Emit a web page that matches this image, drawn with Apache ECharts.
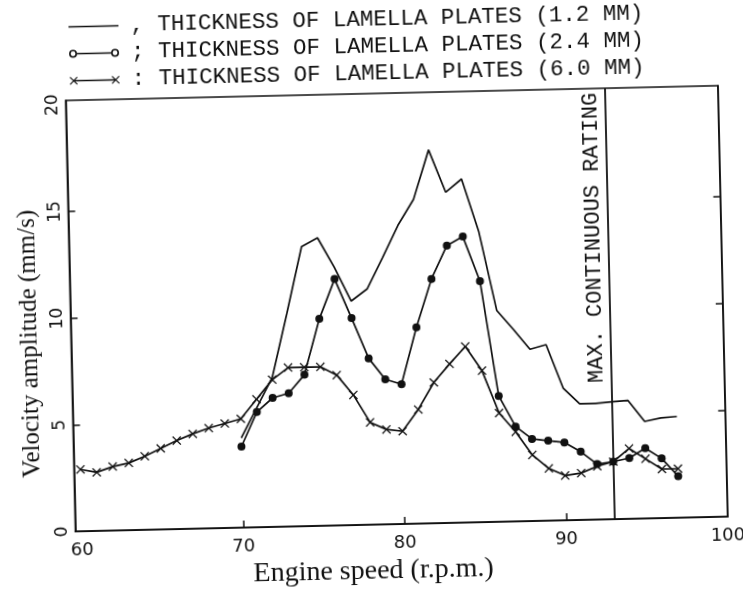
<!DOCTYPE html>
<html><head><meta charset="utf-8">
<script src="https://cdn.jsdelivr.net/npm/echarts@6/dist/echarts.min.js"></script>
<style>
html,body{margin:0;padding:0;background:#fff;overflow:hidden}
#c{width:743px;height:590px;transform:rotate(-1.3deg);transform-origin:398px 311px;background:#fff}
</style></head><body><div id="c"></div>
<script>
// ---- data ----
const speedThin = [70,71,72,73,74,75,76,77,78,79,80,81,82,83,84,85,86,87,88,89,90,91,92,93,94,95,96,97];
const amp12 = [4.2,5.6,7.0,10.0,13.1,13.5,12.1,10.5,11.05,12.5,14.0,15.2,17.5,15.5,16.1,13.6,9.9,9.0,8.05,8.25,6.2,5.45,5.45,5.5,5.55,4.55,4.7,4.75];
const amp24 = [3.8,5.4,6.05,6.25,7.1,9.7,11.55,9.7,7.8,6.8,6.55,9.2,11.45,13.0,13.4,11.3,5.9,4.45,3.85,3.75,3.65,3.2,2.6,2.7,2.85,3.3,2.8,1.95];
const speedThick = [60,61,62,63,64,65,66,67,68,69,70,71,72,73,74,75,76,77,78,79,80,81,82,83,84,85,86,87,88,89,90,91,92,93,94,95,96,97];
const amp60 = [2.9,2.75,3.0,3.15,3.45,3.8,4.15,4.45,4.7,4.9,5.1,6.0,6.9,7.45,7.45,7.45,7.05,6.1,4.8,4.45,4.35,5.35,6.6,7.45,8.25,7.1,5.1,4.2,3.1,2.45,2.1,2.2,2.5,2.7,3.3,2.8,2.3,2.3];
const seriesNames = ['THICKNESS OF LAMELLA PLATES (1.2 MM)','THICKNESS OF LAMELLA PLATES (2.4 MM)','THICKNESS OF LAMELLA PLATES (6.0 MM)'];
const legendSeps = [', ', '; ', ': '];
const xTickLabels = [60,70,80,90,100];
const xTicks = [70,80,90];
const yTickLabels = [0,5,10,15,20];
const yTicks = [5,10,15];
const ratedSpeed = 93;
const ratedLabel = 'MAX. CONTINUOUS RATING';

const pair = (xs, ys) => xs.map((x, i) => [x, ys[i]]);
const crossPath = (ox) => `M${ox},0.8 L${ox+0.8},0 L${ox+4},3.2 L${ox+7.2},0 L${ox+8},0.8 L${ox+4.8},4 L${ox+8},7.2 L${ox+7.2},8 L${ox+4},4.8 L${ox+0.8},8 L${ox},7.2 L${ox+3.2},4 Z`;
const ringPath = (cx) => `M${cx-4},4 A4,4 0 1,1 ${cx+4},4 A4,4 0 1,1 ${cx-4},4 Z M${cx-2.4},4 A2.4,2.4 0 1,0 ${cx+2.4},4 A2.4,2.4 0 1,0 ${cx-2.4},4 Z`;
const crossSymbol = 'path://' + crossPath(0);
const iconPlain = 'path://M0,3.3 L50,3.3 L50,4.7 L0,4.7 Z M0,0 L0.01,0 L0,0.01 Z M49.99,8 L50,8 L50,7.99 Z';
const iconCircles = 'path://' + ringPath(4) + ' M8,3.3 L42,3.3 L42,4.7 L8,4.7 Z ' + ringPath(46);
const iconCross = 'path://' + crossPath(0) + ' M5,3.3 L45,3.3 L45,4.7 L5,4.7 Z ' + crossPath(42);

const ink = '#111';
const mono = 'Liberation Mono';
const chart = echarts.init(document.getElementById('c'), null, {renderer:'canvas'});
const sepMap = {};
seriesNames.forEach((n, i) => sepMap[n] = legendSeps[i]);

chart.setOption({
  animation:false,
  backgroundColor:'#fff',
  grid:{left:70.5, top:93, width:655, height:436, show:true, borderColor:ink, borderWidth:1.6, containLabel:false},
  legend:{
    orient:'vertical', left:70, top:3, itemWidth:50, itemHeight:8, itemGap:4, selectedMode:false,
    data:[{name:seriesNames[0], icon:iconPlain},{name:seriesNames[1], icon:iconCircles},{name:seriesNames[2], icon:iconCross}],
    formatter:(n) => sepMap[n] + n,
    textStyle:{fontFamily:mono, fontSize:22.5, color:ink, lineHeight:20, padding:[0,0,0,7]}
  },
  xAxis:{
    type:'value', min:59.6, max:100,
    name:'Engine speed (r.p.m.)', nameLocation:'middle', nameGap:27,
    nameTextStyle:{fontFamily:'Liberation Serif', fontSize:28, color:ink, padding:[0,58,0,0]},
    axisLine:{lineStyle:{color:ink, width:1.6}},
    axisTick:{inside:true, length:7, customValues:xTicks, lineStyle:{color:ink, width:1.5}},
    axisLabel:{customValues:xTickLabels, margin:10, fontFamily:'DejaVu Sans', fontSize:18, color:ink},
    splitLine:{show:false}
  },
  yAxis:[{
    type:'value', min:0, max:20.2,
    name:'Velocity amplitude (mm/s)', nameLocation:'middle', nameGap:25,
    nameTextStyle:{fontFamily:'Liberation Serif', fontSize:25, color:ink, padding:[0,54,0,0]},
    axisLine:{lineStyle:{color:ink, width:1.6}},
    axisTick:{inside:true, length:7, customValues:yTicks, lineStyle:{color:ink, width:1.5}},
    axisLabel:{customValues:yTickLabels, rotate:90, margin:4, fontFamily:'DejaVu Sans', fontSize:17, color:ink},
    splitLine:{show:false}
  },{
    type:'value', min:0, max:20.2, position:'right',
    axisLine:{show:true, lineStyle:{color:ink, width:1.6}},
    axisTick:{inside:true, length:7, customValues:yTicks, lineStyle:{color:ink, width:1.5}},
    axisLabel:{show:false}, splitLine:{show:false}
  }],
  series:[
    {name:seriesNames[0], type:'line', data:pair(speedThin, amp12), symbol:'none',
     lineStyle:{color:ink, width:1.7}, itemStyle:{color:ink},
     markLine:{silent:true, symbol:'none', animation:false,
       lineStyle:{color:ink, width:1.8, type:'solid'},
       label:{show:true, position:'insideEndTop', formatter:ratedLabel, fontFamily:mono, fontSize:22, color:ink, distance:4},
       data:[{xAxis:ratedSpeed}]}},
    {name:seriesNames[1], type:'line', data:pair(speedThin, amp24), symbol:'circle', symbolSize:8,
     lineStyle:{color:ink, width:1.7}, itemStyle:{color:ink}},
    {name:seriesNames[2], type:'line', data:pair(speedThick, amp60), symbol:crossSymbol, symbolSize:9,
     lineStyle:{color:ink, width:1.7}, itemStyle:{color:ink}}
  ]
});
</script></body></html>
